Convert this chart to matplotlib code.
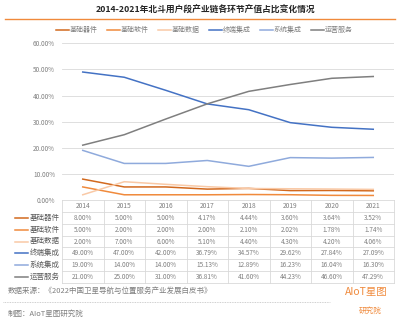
import numpy as np
import matplotlib.pyplot as plt
from matplotlib.lines import Line2D

plt.rcParams['font.family'] = ['Noto Sans CJK SC', 'DejaVu Sans']

years = ['2014', '2015', '2016', '2017', '2018', '2019', '2020', '2021']
names = ['基础器件', '基础软件', '基础数据', '终端集成', '系统集成', '运营服务']
jichu_qijian = [8.00, 5.00, 5.00, 4.17, 4.44, 3.60, 3.64, 3.52]
jichu_ruanjian = [5.00, 2.00, 2.00, 2.00, 2.10, 2.02, 1.78, 1.74]
jichu_shuju = [2.00, 7.00, 6.00, 5.10, 4.40, 4.30, 4.20, 4.06]
zhongduan_jicheng = [49.00, 47.00, 42.00, 36.79, 34.57, 29.62, 27.84, 27.09]
xitong_jicheng = [19.00, 14.00, 14.00, 15.13, 12.89, 16.23, 16.04, 16.30]
yunying_fuwu = [21.00, 25.00, 31.00, 36.81, 41.60, 44.23, 46.60, 47.29]
yticks = [0, 10, 20, 30, 40, 50, 60]

series = [jichu_qijian, jichu_ruanjian, jichu_shuju,
          zhongduan_jicheng, xitong_jicheng, yunying_fuwu]
colors = ['#D2691E', '#F08A3C', '#F9C9A6', '#4472C4', '#8FAADC', '#7F7F7F']

W, H = 401, 323
fig = plt.figure(figsize=(W / 100, H / 100), dpi=100)
txt_gray = '#7F7F7F'
grid_gray = '#D9D9D9'


def px_box(x0, y0, x1, y1):
    # pixel box (top-left origin) -> figure fraction rect
    return [x0 / W, 1 - y1 / H, (x1 - x0) / W, (y1 - y0) / H]


# title + orange underline
fig.text(205 / W, 1 - 10.5 / H, '2014-2021年北斗用户段产业链各环节产值占比变化情况',
         ha='center', va='center', fontsize=6.3, fontweight='bold', color='#262626')
fig.add_artist(Line2D([5 / W, 395 / W], [1 - 18.5 / H, 1 - 18.5 / H],
                      color='#F08A3C', lw=1.0))

# chart
ax = fig.add_axes(px_box(62, 43.3, 394, 200))
x = np.arange(len(years))
handles = []
for name, vals, c in zip(names, series, colors):
    h, = ax.plot(x, vals, color=c, lw=1.1, label=name)
    handles.append(h)
ax.set_xlim(-0.5, len(years) - 0.5)
ax.set_ylim(0, 60)
ax.set_yticks(yticks)
ax.set_yticklabels([f'{v:.2f}%' for v in yticks], fontsize=4.6, color=txt_gray)
ax.set_xticks([])
ax.tick_params(axis='y', length=0, pad=5)
ax.yaxis.grid(True, color=grid_gray, lw=0.6)
ax.set_axisbelow(True)
for s in ax.spines.values():
    s.set_visible(False)

fig.legend(handles=handles, loc='center', bbox_to_anchor=(204.5 / W, 1 - 30 / H),
           ncol=6, frameon=False, fontsize=5, handlelength=1.9,
           handletextpad=0.1, columnspacing=1.3, labelcolor=txt_gray)

# data table under the chart
tab = fig.add_axes(px_box(62, 200, 394, 283))
ncol = len(years)
nrow = len(names) + 1
tab.set_xlim(-0.5, ncol - 0.5)
tab.set_ylim(nrow, 0)
tab.axis('off')
col_px = (394 - 62) / ncol
for k in range(ncol + 1):
    tab.plot([k - 0.5, k - 0.5], [0, nrow], color=grid_gray, lw=0.6, clip_on=False)
for r in range(nrow + 1):
    tab.plot([-0.5, ncol - 0.5], [r, r], color=grid_gray, lw=0.6, clip_on=False)
for j, yr in enumerate(years):
    tab.text(j, 0.5, yr, ha='center', va='center', fontsize=4.8, color=txt_gray)
for i, (name, vals, c) in enumerate(zip(names, series, colors)):
    yc = i + 1.5
    tab.plot([-0.5 - 47 / col_px, -0.5 - 34 / col_px], [yc, yc], color=c,
             lw=1.1, clip_on=False)
    tab.text(-0.5 - 2 / col_px, yc, name, ha='right', va='center', fontsize=5.4,
             color='#595959')
    for j, v in enumerate(vals):
        tab.text(j, yc, f'{v:.2f}%', ha='center', va='center', fontsize=4.6,
                 color=txt_gray)

# footer
fig.text(8 / W, 1 - 291 / H, '数据来源：《2022中国卫星导航与位置服务产业发展白皮书》',
         ha='left', va='center', fontsize=5.4, color=txt_gray)
fig.add_artist(Line2D([3 / W, 330 / W], [1 - 302 / H, 1 - 302 / H],
                      color='#BFBFBF', lw=0.6, ls=(0, (1, 1))))
fig.text(8 / W, 1 - 314 / H, '制图：AIoT星图研究院', ha='left', va='center',
         fontsize=5.4, color=txt_gray)
fig.text(366 / W, 1 - 292 / H, 'AIoT星图', ha='center', va='center',
         fontsize=7.5, color='#F08A3C')
fig.text(370 / W, 1 - 311 / H, '研究院', ha='center', va='center',
         fontsize=5.5, color='#F08A3C')

fig.savefig('out.png', dpi=100)
